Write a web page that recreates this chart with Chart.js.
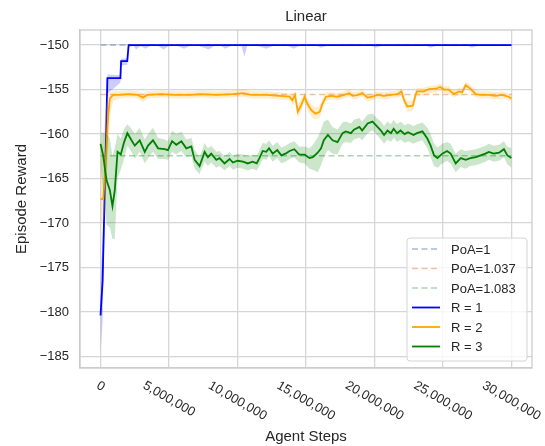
<!DOCTYPE html>
<html>
<head>
<meta charset="utf-8">
<script src="https://cdn.jsdelivr.net/npm/chart.js@4.4.0/dist/chart.umd.min.js"></script>
<style>
  html, body { margin: 0; padding: 0; background: #fff; }
  #wrap { width: 545px; height: 446px; }
</style>
</head>
<body>
<div id="wrap"><canvas id="rewardChart"></canvas></div>
<script>
// agent steps are in millions
const xTicks = [0, 5, 10, 15, 20, 25, 30];
const yTicks = [-185, -180, -175, -170, -165, -160, -155, -150];
const poaLabels = ['PoA=1', 'PoA=1.037', 'PoA=1.083'];
const poaLevels = [-150, -155.55, -162.45];
const poaSteps = [0, 30];

const blueSteps = [0, 0.15, 0.5, 1.45, 1.5, 1.95, 2.05, 2.4, 2.6, 2.9, 3.3, 3.6, 4.2, 4.6, 5.0, 5.6, 6.1, 6.5, 7.2, 7.9,
  8.3, 8.8, 9.1, 9.5, 10.3, 10.5, 10.7, 11.5, 12.1, 12.6, 13.7, 14.1, 14.5, 15.8, 16.1, 16.5, 19.8, 20.1, 20.5, 23.8,
  24.1, 24.5, 26.8, 27.1, 27.5, 30];
const blueMean = [-180.4, -176.5, -153.7, -153.7, -151.8, -151.8, -150, -150, -150, -150, -150, -150, -150, -150, -150, -150, -150, -150, -150, -150,
  -150, -150, -150, -150, -150, -150, -150, -150, -150, -150, -150, -150, -150, -150, -150, -150, -150, -150, -150, -150,
  -150, -150, -150, -150, -150, -150];
const blueHigh = [-176.5, -172.0, -153.3, -153.4, -151.5, -151.5, -149.9, -149.9, -149.9, -149.9, -149.9, -149.9, -149.9, -149.9, -149.9, -149.9, -149.9, -149.9, -149.9, -149.9,
  -149.9, -149.9, -149.9, -149.9, -149.9, -149.9, -149.9, -149.9, -149.9, -149.9, -149.9, -149.9, -149.9, -149.9, -149.9, -149.9, -149.9, -149.9, -149.9, -149.9,
  -149.9, -149.9, -149.9, -149.9, -149.9, -149.9];
const blueLow = [-184.6, -181.0, -155.5, -154.2, -152.3, -152.2, -150.2, -150.1, -150.5, -150.1, -150.4, -150.1, -150.1, -150.5, -150.1, -150.1, -150.4, -150.1, -150.1, -150.5,
  -150.1, -150.1, -150.4, -150.1, -150.1, -151.3, -150.1, -150.1, -150.4, -150.1, -150.1, -150.4, -150.1, -150.1, -150.3, -150.1, -150.1, -150.3, -150.1, -150.1,
  -150.3, -150.1, -150.1, -150.3, -150.1, -150.1];

const orangeSteps = [0, 0.19, 0.3, 0.44, 0.55, 0.68, 0.92, 1.4, 2.0, 2.7,
  3.1, 3.4, 4.4, 5.4, 6.6, 7.35, 8.45, 9.66, 10.4, 11.0,
  12.1, 13.06, 13.8, 14.0, 14.2, 14.4, 14.6, 14.9, 15.1, 15.37,
  15.7, 16.0, 16.2, 16.46, 16.8, 17.3, 17.8, 18.15, 18.4, 18.8,
  19.1, 19.5, 19.85, 20.2, 20.7, 21.2, 21.7, 21.97, 22.16, 22.4,
  22.8, 23.0, 23.1, 23.6, 23.98, 24.5, 24.8, 25.07, 25.4, 25.8,
  26.17, 26.4, 26.66, 27.0, 27.4, 27.75, 28.35, 28.8, 29.3, 29.8, 30];
const orangeMean = [-167.3, -167.3, -165.2, -161.4, -158.1, -156.0, -155.6, -155.6, -155.5, -155.6,
  -155.9, -155.6, -155.5, -155.6, -155.6, -155.5, -155.6, -155.5, -155.4, -155.6,
  -155.6, -155.7, -155.8, -156.2, -155.6, -157.5, -156.9, -155.8, -156.6, -157.3,
  -157.7, -157.5, -156.6, -155.8, -155.7, -155.8, -155.6, -155.4, -155.7, -155.6,
  -155.4, -155.9, -155.8, -155.6, -155.7, -155.6, -155.5, -155.2, -156.2, -156.9,
  -156.8, -155.6, -155.2, -155.2, -154.95, -154.9, -154.7, -155.0, -155.0, -155.5,
  -155.2, -155.3, -154.5, -154.9, -155.5, -155.6, -155.6, -155.7, -155.6, -155.8, -156.0];
const orangeHigh = [-163.0, -160.0, -158.5, -156.5, -155.5, -155.3, -155.2, -155.2, -155.1, -155.2,
  -155.4, -155.2, -155.1, -155.2, -155.2, -155.1, -155.2, -155.1, -154.9, -155.2,
  -155.2, -155.3, -155.4, -155.6, -155.2, -156.7, -156.2, -155.3, -156.0, -156.6,
  -157.0, -156.8, -156.0, -155.3, -155.3, -155.4, -155.2, -154.9, -155.3, -155.2,
  -155.0, -155.5, -155.4, -155.2, -155.3, -155.2, -155.1, -154.8, -155.6, -156.3,
  -156.2, -155.1, -154.8, -154.8, -154.6, -154.5, -154.3, -154.6, -154.6, -155.1,
  -154.8, -154.9, -154.1, -154.5, -155.1, -155.2, -155.2, -155.3, -155.2, -155.4, -155.6];
const orangeLow = [-170.0, -170.0, -169.0, -166.0, -162.0, -158.0, -156.3, -156.0, -155.9, -156.0,
  -156.4, -156.0, -155.9, -156.0, -156.0, -155.9, -156.0, -155.9, -155.8, -156.0,
  -156.0, -156.1, -156.2, -156.8, -156.3, -158.2, -157.6, -156.4, -157.3, -158.0,
  -158.4, -158.1, -157.2, -156.3, -156.1, -156.2, -156.0, -155.8, -156.1, -156.0,
  -155.8, -156.3, -156.2, -156.0, -156.1, -156.0, -155.9, -155.7, -156.8, -157.5,
  -157.4, -156.2, -155.7, -155.6, -155.4, -155.3, -155.1, -155.4, -155.4, -155.9,
  -155.6, -155.7, -154.9, -155.3, -155.9, -156.0, -156.0, -156.1, -156.0, -156.2, -156.4];

const greenSteps = [0, 0.19, 0.44, 0.68, 0.87, 1.04, 1.24, 1.48, 1.72, 1.96,
  2.26, 2.5, 2.86, 3.23, 3.47, 3.83, 4.2, 4.68, 4.92, 5.22,
  5.53, 5.9, 6.26, 6.63, 6.87, 7.23, 7.6, 7.84, 8.08, 8.45,
  8.69, 9.05, 9.42, 9.66, 10.0, 10.4, 10.75, 11.1, 11.4, 11.6,
  11.84, 12.1, 12.3, 12.57, 12.9, 13.2, 13.5, 13.8, 14.15, 14.5,
  14.9, 15.25, 15.5, 15.85, 16.1, 16.3, 16.6, 16.94, 17.3, 17.67,
  17.9, 18.28, 18.5, 18.9, 19.1, 19.5, 19.85, 20.1, 20.47, 20.7,
  20.95, 21.2, 21.4, 21.65, 21.9, 22.2, 22.45, 22.85, 23.1, 23.5,
  23.86, 24.1, 24.35, 24.6, 24.95, 25.3, 25.56, 25.93, 26.3, 26.66,
  27.0, 27.4, 27.75, 28.1, 28.35, 28.7, 29.1, 29.45, 29.7, 30];
const greenMean = [-161.1, -162.4, -165.2, -166.3, -168.1, -166.3, -162.0, -162.3, -160.9, -159.9,
  -160.7, -161.3, -160.7, -162.0, -161.3, -160.7, -161.6, -161.7, -161.8, -160.8,
  -161.2, -160.8, -161.6, -161.4, -162.9, -163.6, -162.0, -162.6, -162.2, -162.9,
  -162.7, -163.3, -162.8, -163.2, -163.0, -163.1, -163.3, -163.1, -163.3, -162.7,
  -161.9, -162.0, -161.6, -162.2, -161.8, -162.4, -162.2, -161.9, -161.7, -162.3,
  -162.3, -162.7, -162.6, -162.1, -161.6, -160.7, -160.1, -160.7, -160.9, -159.9,
  -159.7, -159.9, -159.5, -159.2, -159.6, -158.8, -158.6, -159.0, -159.6, -160.1,
  -159.6, -159.9, -159.4, -159.9, -159.6, -160.0, -159.8, -160.1, -159.9, -159.7,
  -160.5, -161.3, -162.4, -162.7, -162.2, -161.9, -162.2, -163.3, -162.7, -162.9,
  -162.7, -162.6, -162.4, -162.2, -162.0, -162.2, -162.1, -161.7, -162.4, -162.7];
const greenHigh = [-159.8, -159.9, -160.0, -160.5, -162.5, -161.5, -160.0, -160.5, -159.4, -158.9,
  -159.4, -160.0, -159.3, -160.6, -160.0, -159.3, -160.4, -160.6, -160.8, -159.6,
  -160.0, -159.7, -160.6, -160.4, -161.8, -162.6, -161.0, -161.6, -161.3, -162.0,
  -161.9, -162.5, -162.0, -162.4, -162.2, -162.3, -162.5, -162.3, -162.4, -161.8,
  -161.0, -161.1, -160.7, -161.3, -160.9, -161.5, -161.3, -161.0, -160.8, -161.4,
  -161.4, -161.6, -161.2, -160.4, -159.5, -158.6, -158.4, -159.2, -159.5, -158.7,
  -158.6, -158.8, -158.4, -158.2, -158.6, -157.8, -157.7, -158.1, -158.6, -159.1,
  -158.6, -158.9, -158.4, -158.9, -158.6, -159.0, -158.8, -159.1, -158.9, -158.7,
  -159.3, -160.0, -161.1, -161.5, -161.1, -160.9, -161.1, -162.2, -161.7, -161.9,
  -161.8, -161.7, -161.5, -161.3, -161.1, -161.3, -161.2, -160.8, -161.4, -161.6];
const greenLow = [-163.5, -166.5, -170.2, -170.5, -171.8, -171.8, -165.0, -164.0, -162.8, -161.3,
  -162.0, -162.8, -162.0, -163.3, -162.7, -162.0, -162.8, -162.8, -162.9, -162.0,
  -162.3, -161.9, -162.6, -162.4, -163.9, -164.5, -163.1, -163.6, -163.2, -163.8,
  -163.6, -164.1, -163.6, -164.0, -163.8, -163.9, -164.1, -163.9, -164.1, -163.6,
  -162.8, -162.9, -162.5, -163.1, -162.7, -163.3, -163.1, -162.8, -162.6, -163.2,
  -163.3, -163.9, -164.0, -164.3, -163.5, -162.6, -161.8, -162.2, -162.3, -161.1,
  -160.9, -161.0, -160.6, -160.4, -160.7, -159.9, -159.6, -160.0, -160.6, -161.1,
  -160.6, -160.9, -160.4, -160.9, -160.6, -161.0, -160.8, -161.1, -160.9, -160.7,
  -161.6, -162.6, -163.6, -163.8, -163.3, -163.0, -163.3, -164.3, -163.7, -163.9,
  -163.6, -163.5, -163.3, -163.1, -162.9, -163.1, -163.0, -162.6, -163.4, -163.8];

const FONT = '"Liberation Sans", Arial, sans-serif';
const textColor = '#262626';
const gridColor = '#d6d6d6';
const spineColor = '#cccccc';
const poaColors = ['rgba(76,114,176,0.5)', 'rgba(221,132,82,0.5)', 'rgba(85,168,104,0.5)'];
const runs = [
  { label: 'R = 1', color: '#0000ff', band: 'rgba(0,0,255,0.2)', xs: blueSteps, mean: blueMean, hi: blueHigh, lo: blueLow },
  { label: 'R = 2', color: '#ffa500', band: 'rgba(255,165,0,0.2)', xs: orangeSteps, mean: orangeMean, hi: orangeHigh, lo: orangeLow },
  { label: 'R = 3', color: '#008000', band: 'rgba(0,128,0,0.2)', xs: greenSteps, mean: greenMean, hi: greenHigh, lo: greenLow }
];

function pts(xs, ys) {
  return xs.map((x, i) => ({ x: x, y: ys[i] }));
}

const datasets = [];
poaLevels.forEach((lvl, i) => {
  datasets.push({
    label: poaLabels[i],
    data: pts(poaSteps, [lvl, lvl]),
    borderColor: poaColors[i],
    borderWidth: 1.5,
    borderDash: [6, 3.5],
    pointRadius: 0,
    fill: false,
    order: 20
  });
});
runs.forEach((r, k) => {
  const base = 10 - k * 3;
  datasets.push({ data: pts(r.xs, r.hi), borderWidth: 0, pointRadius: 0, fill: '+1', backgroundColor: r.band, order: base });
  datasets.push({ data: pts(r.xs, r.lo), borderWidth: 0, pointRadius: 0, fill: false, order: base });
  datasets.push({ label: r.label, data: pts(r.xs, r.mean), borderColor: r.color, borderWidth: 1.8, pointRadius: 0, fill: false, order: base - 1 });
});

const decorations = {
  id: 'decorations',
  afterDatasetsDraw(chart) {
    const ctx = chart.ctx, a = chart.chartArea;
    ctx.save();
    ctx.strokeStyle = spineColor;
    ctx.lineWidth = 1.3;
    ctx.strokeRect(a.left, a.top, a.right - a.left, a.bottom - a.top);
    ctx.restore();
  },
  afterDraw(chart) {
    const ctx = chart.ctx, a = chart.chartArea, xs = chart.scales.x;
    ctx.save();
    ctx.fillStyle = textColor;
    // title
    ctx.font = '15px ' + FONT;
    ctx.textAlign = 'center';
    ctx.textBaseline = 'middle';
    ctx.fillText('Linear', (a.left + a.right) / 2, 17);
    // x tick labels, turned 30 degrees downward
    ctx.font = '13px ' + FONT;
    const ang = Math.PI / 6;
    xTicks.forEach(v => {
      const label = (v * 1000000).toLocaleString('en-US');
      const w = ctx.measureText(label).width;
      const boxH = w * Math.sin(ang) + 13 * Math.cos(ang);
      ctx.save();
      ctx.translate(xs.getPixelForValue(v), a.bottom + 11 + boxH / 2);
      ctx.rotate(ang);
      ctx.fillText(label, 0, 0);
      ctx.restore();
    });
    // legend
    const items = poaLabels.map((l, i) => ({ label: l, color: poaColors[i], dash: [6, 3.5], lw: 1.5 }))
      .concat(runs.map(r => ({ label: r.label, color: r.color, dash: [], lw: 1.8 })));
    const bw = 120, bh = 123;
    const bx = a.right - 5 - bw, by = a.bottom - 7 - bh;
    ctx.beginPath();
    if (ctx.roundRect) ctx.roundRect(bx, by, bw, bh, 3); else ctx.rect(bx, by, bw, bh);
    ctx.fillStyle = 'rgba(255,255,255,0.8)';
    ctx.fill();
    ctx.strokeStyle = '#d4d4d4';
    ctx.lineWidth = 1;
    ctx.stroke();
    ctx.textAlign = 'left';
    items.forEach((it, i) => {
      const yy = by + 11 + i * 19.5;
      ctx.beginPath();
      ctx.setLineDash(it.dash);
      ctx.strokeStyle = it.color;
      ctx.lineWidth = it.lw;
      ctx.moveTo(bx + 5, yy);
      ctx.lineTo(bx + 33, yy);
      ctx.stroke();
      ctx.setLineDash([]);
      ctx.fillStyle = textColor;
      ctx.fillText(it.label, bx + 44, yy + 1);
    });
    ctx.restore();
  }
};

new Chart(document.getElementById('rewardChart').getContext('2d'), {
  type: 'line',
  data: { datasets: datasets },
  options: {
    responsive: true,
    maintainAspectRatio: false,
    animation: false,
    events: [],
    layout: { padding: { top: 30, left: 13, right: 13, bottom: 0 } },
    elements: { line: { tension: 0 } },
    plugins: {
      legend: { display: false },
      title: { display: false },
      tooltip: { enabled: false },
      filler: { propagate: false }
    },
    scales: {
      x: {
        type: 'linear',
        min: -1.5,
        max: 31.5,
        afterBuildTicks: s => { s.ticks = xTicks.map(v => ({ value: v })); },
        afterFit: s => { s.height = 78; },
        ticks: { display: false },
        grid: { color: gridColor, lineWidth: 1.3, drawTicks: false },
        border: { color: spineColor, width: 1.3 },
        title: { display: true, text: 'Agent Steps', color: textColor, font: { family: FONT, size: 15 }, padding: 0 }
      },
      y: {
        type: 'linear',
        min: -186.3,
        max: -148.3,
        afterBuildTicks: s => { s.ticks = yTicks.map(v => ({ value: v })); },
        afterFit: s => { s.width = 67; },
        ticks: {
          color: textColor,
          font: { family: FONT, size: 13 },
          padding: 11,
          callback: v => String(v).replace('-', '\u2212')
        },
        grid: { color: gridColor, lineWidth: 1.3, drawTicks: false },
        border: { color: spineColor, width: 1.3 },
        title: { display: true, text: 'Episode Reward', color: textColor, font: { family: FONT, size: 15 }, padding: 0 }
      }
    }
  },
  plugins: [decorations]
});
</script>
</body>
</html>
